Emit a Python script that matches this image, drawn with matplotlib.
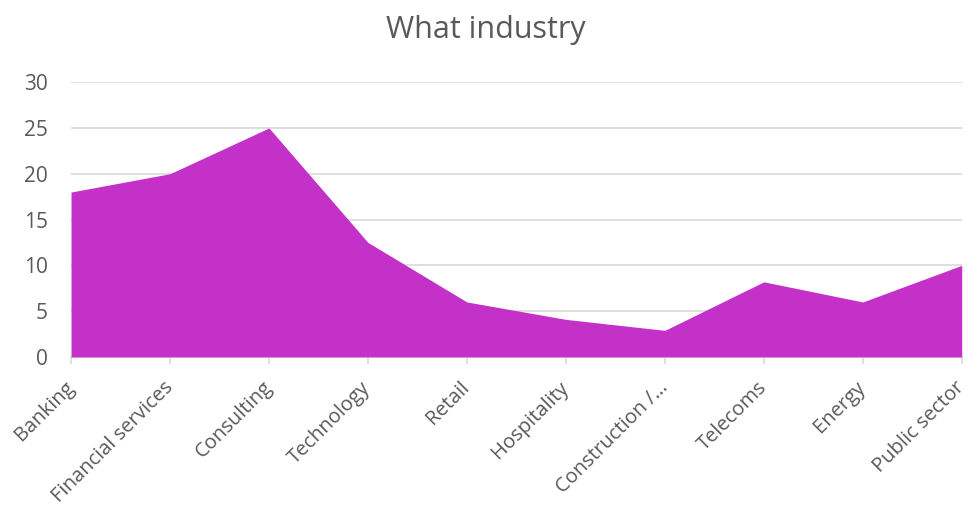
import matplotlib
matplotlib.use("Agg")
import matplotlib.pyplot as plt
from matplotlib.transforms import ScaledTranslation

categories = ["Banking", "Financial services", "Consulting", "Technology", "Retail",
              "Hospitality", "Construction /…", "Telecoms", "Energy", "Public sector"]
values = [18, 20, 25, 12.5, 6, 4.1, 2.9, 8.2, 6, 10]
yticks = [0, 5, 10, 15, 20, 25, 30]

plt.rcParams['font.family'] = ['Open Sans', 'DejaVu Sans']
fig = plt.figure(figsize=(9.65, 5.07), dpi=100)
ax = fig.add_axes([0.0736, 0.296, 0.923, 0.542])
x = list(range(len(categories)))
ax.fill_between(x, values, 0, color="#C431C8", linewidth=0, zorder=3)
ax.set_xlim(0, len(categories) - 1)
ax.set_ylim(0, 30)
ax.set_yticks(yticks)
ax.set_yticklabels([str(v) for v in yticks], fontsize=15, color="#595959")
ax.set_xticks(x)
ax.set_xticklabels(categories, rotation=45, ha="right", va="center",
                   rotation_mode="anchor", fontsize=14.5, color="#595959")
offset = ScaledTranslation(3 / 100, 0, fig.dpi_scale_trans)
for lab in ax.get_xticklabels():
    lab.set_transform(lab.get_transform() + offset)
ax.grid(axis="y", color="#d9d9d9", linewidth=1.2, zorder=0)
for s in ["top", "right", "left"]:
    ax.spines[s].set_visible(False)
ax.spines["bottom"].set_color("#d9d9d9")
ax.spines["bottom"].set_linewidth(1.2)
ax.tick_params(axis="y", length=0, pad=16.5)
ax.tick_params(axis="x", length=5, color="#d9d9d9", width=1.2, pad=15)
fig.text(0.503, 0.940, "What industry", ha="center", va="center", fontsize=22, color="#595959")
fig.savefig("out.png", dpi=100)
